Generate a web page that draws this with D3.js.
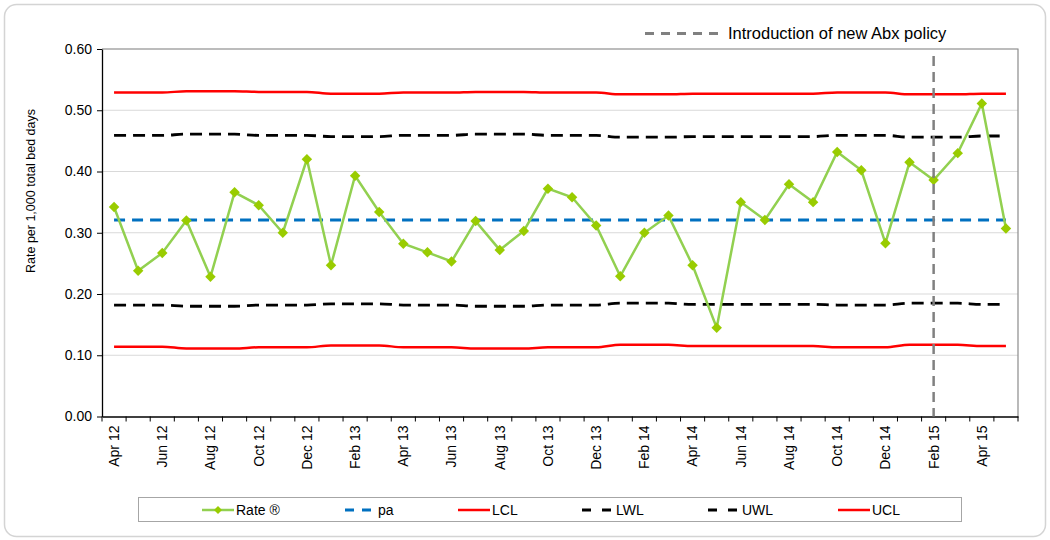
<!DOCTYPE html>
<html><head><meta charset="utf-8">
<script src="https://cdn.jsdelivr.net/npm/d3@7"></script>
<style>
body{margin:0;background:#fff;}
text{font-family:"Liberation Sans",Arial,sans-serif;fill:#000;}
</style></head>
<body><svg id="c" width="1050" height="540"></svg>
<script>
const months = ["Apr 12","May 12","Jun 12","Jul 12","Aug 12","Sep 12","Oct 12","Nov 12","Dec 12","Jan 13","Feb 13","Mar 13",
"Apr 13","May 13","Jun 13","Jul 13","Aug 13","Sep 13","Oct 13","Nov 13","Dec 13","Jan 14","Feb 14","Mar 14",
"Apr 14","May 14","Jun 14","Jul 14","Aug 14","Sep 14","Oct 14","Nov 14","Dec 14","Jan 15","Feb 15","Mar 15","Apr 15","May 15"];
const rate = [0.342,0.238,0.267,0.320,0.228,0.366,0.345,0.300,0.420,0.247,0.393,0.334,
0.282,0.268,0.253,0.319,0.272,0.303,0.372,0.358,0.312,0.229,0.300,0.328,
0.247,0.145,0.350,0.321,0.379,0.350,0.432,0.402,0.283,0.415,0.386,0.430,0.511,0.307];
const pa = months.map(() => 0.321);
const ucl = [0.529,0.529,0.529,0.531,0.531,0.531,0.530,0.530,0.530,0.527,0.527,0.527,
0.529,0.529,0.529,0.530,0.530,0.530,0.529,0.529,0.529,0.526,0.526,0.526,
0.527,0.527,0.527,0.527,0.527,0.527,0.529,0.529,0.529,0.526,0.526,0.526,0.527,0.527];
const uwl = [0.459,0.459,0.459,0.461,0.461,0.461,0.459,0.459,0.459,0.457,0.457,0.457,
0.459,0.459,0.459,0.461,0.461,0.461,0.459,0.459,0.459,0.456,0.456,0.456,
0.457,0.457,0.457,0.457,0.457,0.457,0.459,0.459,0.459,0.456,0.456,0.456,0.458,0.458];
const lwl = [0.182,0.182,0.182,0.180,0.180,0.180,0.182,0.182,0.182,0.184,0.184,0.184,
0.182,0.182,0.182,0.180,0.180,0.180,0.182,0.182,0.182,0.185,0.185,0.185,
0.183,0.183,0.183,0.183,0.183,0.183,0.182,0.182,0.182,0.185,0.185,0.185,0.183,0.183];
const lcl = [0.114,0.114,0.114,0.111,0.111,0.111,0.113,0.113,0.113,0.116,0.116,0.116,
0.113,0.113,0.113,0.111,0.111,0.111,0.113,0.113,0.113,0.117,0.117,0.117,
0.115,0.115,0.115,0.115,0.115,0.115,0.113,0.113,0.113,0.117,0.117,0.117,0.115,0.115];
const yTicks = [0,0.1,0.2,0.3,0.4,0.5,0.6];
const policyMonth = "Feb 15";

const svg = d3.select("#c");
const L=102, R=1018, T=49, B=416.5;
const x = d3.scaleBand().domain(months).range([L,R]).padding(0);
const y = d3.scaleLinear().domain([0,0.6]).range([B,T]);
const cx = m => x(m) + x.bandwidth()/2;

// outer border
svg.append("rect").attr("x",4.5).attr("y",4.5).attr("width",1041).attr("height",532)
  .attr("rx",12).attr("fill","#fff").attr("stroke","#d4d4d4").attr("stroke-width",1.5);

// gridlines
svg.append("g").selectAll("line").data(yTicks.slice(1)).join("line")
  .attr("x1",L).attr("x2",R).attr("y1",d=>y(d)).attr("y2",d=>y(d))
  .attr("stroke","#d9d9d9").attr("stroke-width",1);
// plot border top/right
svg.append("path").attr("d",`M${L},${T}H${R}V${B}`).attr("fill","none").attr("stroke","#8c8c8c").attr("stroke-width",1.2);

// y axis
const ya = svg.append("g").attr("transform",`translate(${L},0)`)
  .call(d3.axisLeft(y).tickValues(yTicks).tickFormat(d3.format(".2f")).tickSize(5).tickSizeOuter(0));
ya.select(".domain").attr("stroke","#000").attr("stroke-width",1.3);
ya.selectAll(".tick line").attr("stroke","#000");
ya.selectAll("text").attr("font-size",14).attr("x",-10).attr("font-family","Liberation Sans, Arial, sans-serif");

// x axis
const xa = svg.append("g").attr("transform",`translate(0,${B})`)
  .call(d3.axisBottom(x).tickSize(0).tickSizeOuter(0).tickFormat((d,i)=> i%2===0 ? d : ""));
xa.select(".domain").attr("stroke","#000").attr("stroke-width",1.3);
xa.selectAll("text").attr("font-size",14).attr("font-family","Liberation Sans, Arial, sans-serif")
  .attr("transform","rotate(-90)").attr("text-anchor","end").attr("x",-9).attr("y",0).attr("dy","0.35em");
// boundary ticks between categories
svg.append("g").selectAll("line").data(d3.range(months.length+1)).join("line")
  .attr("x1",i=>L+i*x.bandwidth()).attr("x2",i=>L+i*x.bandwidth())
  .attr("y1",B).attr("y2",B+5).attr("stroke","#000").attr("stroke-width",1);

// y label
svg.append("text").attr("transform",`translate(35,191) rotate(-90)`).attr("text-anchor","middle")
  .attr("font-size",12.5).text("Rate per 1,000 total bed days");

const mk = vals => d3.line().x((d,i)=>cx(months[i])).y(d=>y(d)).curve(d3.curveMonotoneX)(vals);
// control lines
svg.append("path").attr("d",mk(ucl)).attr("fill","none").attr("stroke","#ff0000").attr("stroke-width",2.5);
svg.append("path").attr("d",mk(lcl)).attr("fill","none").attr("stroke","#ff0000").attr("stroke-width",2.5);
svg.append("path").attr("d",mk(uwl)).attr("fill","none").attr("stroke","#000").attr("stroke-width",2.8).attr("stroke-dasharray","12,7");
svg.append("path").attr("d",mk(lwl)).attr("fill","none").attr("stroke","#000").attr("stroke-width",2.8).attr("stroke-dasharray","12,7");
svg.append("path").attr("d",mk(pa)).attr("fill","none").attr("stroke","#0070c0").attr("stroke-width",3).attr("stroke-dasharray","11,7");

// rate line
svg.append("path").attr("d",d3.line().x((d,i)=>cx(months[i])).y(d=>y(d))(rate))
  .attr("fill","none").attr("stroke","#92d050").attr("stroke-width",2.5);
const diamond = d3.symbol().type(d3.symbolDiamond2).size(70);
svg.append("g").selectAll("path").data(rate).join("path")
  .attr("d",diamond).attr("transform",(d,i)=>`translate(${cx(months[i])},${y(d)})`)
  .attr("fill","#99cc00");

// policy line
svg.append("line").attr("x1",cx(policyMonth)).attr("x2",cx(policyMonth)).attr("y1",56).attr("y2",B)
  .attr("stroke","#808080").attr("stroke-width",2.5).attr("stroke-dasharray","10,6");
svg.append("line").attr("x1",645).attr("x2",723).attr("y1",33.5).attr("y2",33.5)
  .attr("stroke","#808080").attr("stroke-width",3).attr("stroke-dasharray","9,7");
svg.append("text").attr("x",728).attr("y",39).attr("font-size",16.5).text("Introduction of new Abx policy");

// legend
svg.append("rect").attr("x",138.5).attr("y",497.5).attr("width",823).attr("height",24)
  .attr("fill","#fff").attr("stroke","#a6a6a6").attr("stroke-width",1);
const ly = 510;
const leg = [
 {name:"Rate ®", x1:202, x2:234, tx:236, color:"#92d050", dash:null, w:2.5, marker:true},
 {name:"pa", x1:345, x2:377, tx:378, color:"#0070c0", dash:"9,8", w:3},
 {name:"LCL", x1:458, x2:490, tx:492, color:"#ff0000", dash:null, w:2.5},
 {name:"LWL", x1:582, x2:615, tx:616, color:"#000", dash:"9,11", w:2.8},
 {name:"UWL", x1:708, x2:741, tx:742, color:"#000", dash:"9,11", w:2.8},
 {name:"UCL", x1:838, x2:870, tx:872, color:"#ff0000", dash:null, w:2.5}
];
leg.forEach(e=>{
  const l = svg.append("line").attr("x1",e.x1).attr("x2",e.x2).attr("y1",ly).attr("y2",ly)
    .attr("stroke",e.color).attr("stroke-width",e.w);
  if(e.dash) l.attr("stroke-dasharray",e.dash);
  if(e.marker) svg.append("path").attr("d",d3.symbol().type(d3.symbolDiamond2).size(40))
    .attr("transform",`translate(${(e.x1+e.x2)/2},${ly})`).attr("fill","#99cc00");
  svg.append("text").attr("x",e.tx).attr("y",ly+5).attr("font-size",14).text(e.name);
});
</script></body></html>
